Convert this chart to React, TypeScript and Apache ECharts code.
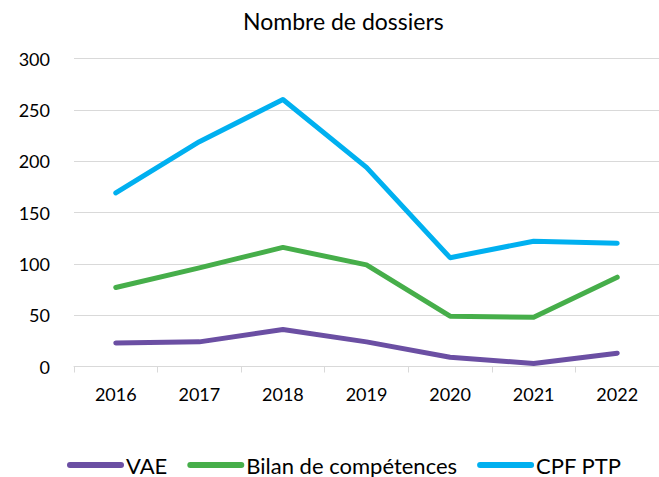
import React, { useEffect, useRef } from "react";
import * as echarts from "echarts";

const years = ["2016", "2017", "2018", "2019", "2020", "2021", "2022"];
const vae = [23, 24, 36, 24, 9, 3, 13];
const bilan = [77, 96, 116, 99, 49, 48, 87];
const cpf = [169, 219, 260, 194, 106, 122, 120];
const seriesNames = ["VAE", "Bilan de compétences", "CPF PTP"];
const colors = ["#6b4fa3", "#46ae4a", "#00b0f0"];

const FONT = "Lato";

export default function App() {
  const ref = useRef<HTMLDivElement>(null);
  useEffect(() => {
    if (!ref.current) return;
    const chart = echarts.init(ref.current, undefined, { renderer: "svg" });
    const data = [vae, bilan, cpf];
    chart.setOption({
      animation: false,
      title: {
        text: "Nombre de dossiers",
        left: 238,
        top: 4,
        textStyle: { fontFamily: FONT, fontSize: 23, fontWeight: "normal", color: "#000" },
      },
      legend: {
        left: 62,
        top: 449,
        itemWidth: 57,
        itemHeight: 6,
        itemGap: 20,
        icon: "path://M3,0 L54,0 A3,3 0 0 1 54,6 L3,6 A3,3 0 0 1 3,0 Z",
        textStyle: { fontFamily: FONT, fontSize: 22, color: "#000", padding: [0, 0, 0, -3] },
        data: seriesNames,
      },
      grid: { left: 74, right: -5, top: 58.5, bottom: 477 - 366.5 },
      xAxis: {
        type: "category",
        data: years,
        boundaryGap: true,
        axisLine: { lineStyle: { color: "#d9d9d9", width: 1 } },
        axisTick: { show: true, length: 6, lineStyle: { color: "#d9d9d9" } },
        axisLabel: { fontFamily: FONT, fontSize: 18, color: "#000", margin: 18 },
      },
      yAxis: {
        type: "value",
        min: 0,
        max: 300,
        interval: 50,
        axisLine: { show: false },
        axisTick: { show: false },
        splitLine: { lineStyle: { color: "#d9d9d9", width: 1 } },
        axisLabel: { fontFamily: FONT, fontSize: 18, color: "#000", margin: 24 },
      },
      series: seriesNames.map((name, i) => ({
        name,
        type: "line",
        data: data[i],
        symbol: "none",
        color: colors[i],
        lineStyle: { width: 5, color: colors[i], cap: "round", join: "round" },
      })),
    });
    return () => chart.dispose();
  }, []);
  return <div ref={ref} style={{ width: 659, height: 477, position: "absolute", left: 0, top: 0 }} />;
}
